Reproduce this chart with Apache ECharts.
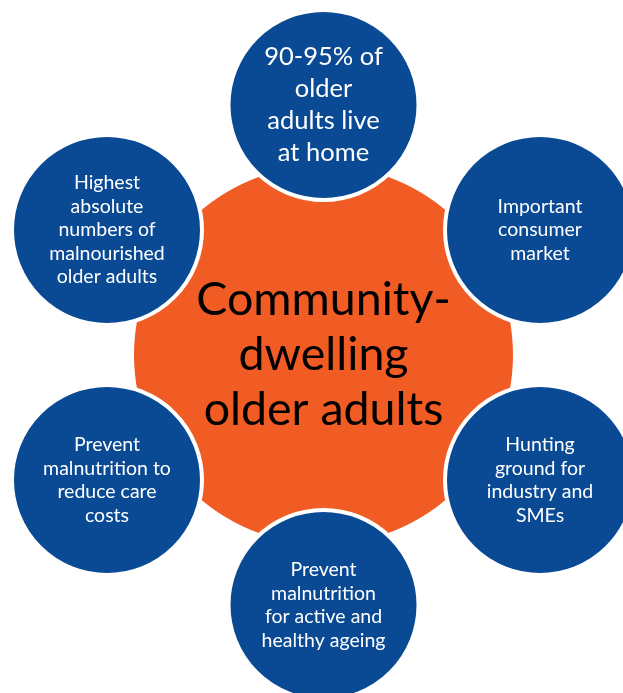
<!DOCTYPE html>
<html>
<head>
  <meta charset="utf-8">
  <script src="https://cdn.jsdelivr.net/npm/echarts@6/dist/echarts.min.js"></script>
  <style>
    body { margin: 0; background: #fff; }
    #main { width: 623px; height: 693px; }
  </style>
</head>
<body>
  <div id="main"></div>
  <script type="text/javascript">
    // texte der aeusseren kreise, im uhrzeigersinn ab oben
    var outerTexts = [
      '90-95% of\nolder\nadults live\nat home',
      'Important\nconsumer\nmarket',
      'Hunting\nground for\nindustry and\nSMEs',
      'Prevent\nmalnutrition\nfor active and\nhealthy ageing',
      'Prevent\nmalnutrition to\nreduce care\ncosts',
      'Highest\nabsolute\nnumbers of\nmalnourished\nolder adults'
    ];
    // winkel (grad, gegen uhrzeigersinn ab 3 uhr)
    var outerAngles = [90, 30, 330, 270, 210, 150];
    // abstand vom zentrum (1 = polar radius)
    var outerRadius = [1, 1, 1, 1, 1, 1];
    var centerText = 'Community-\ndwelling\nolder adults';

    var blue = '#0A4A94';
    var orange = '#F15B24';
    var font = 'Lato, "Open Sans", sans-serif';

    var myChart = echarts.init(document.getElementById('main'));

    var outerData = outerTexts.map(function (t, i) {
      var big = i === 0;
      return {
        value: [outerRadius[i], outerAngles[i]],
        label: {
          formatter: t,
          fontSize: big ? 25.5 : 19.5,
          lineHeight: big ? 32 : 23.5
        }
      };
    });

    var option = {
      backgroundColor: '#fff',
      animation: false,
      polar: { center: [323.5, 355], radius: 250 },
      angleAxis: {
        type: 'value', min: 0, max: 360, startAngle: 0, clockwise: false,
        show: false
      },
      radiusAxis: { type: 'value', min: 0, max: 1, show: false },
      series: [
        {
          type: 'scatter',
          coordinateSystem: 'polar',
          symbol: 'circle',
          symbolSize: 379,
          itemStyle: { color: orange, opacity: 1 },
          label: {
            show: true,
            position: 'inside',
            formatter: centerText,
            color: '#000',
            fontFamily: font,
            fontSize: 46.5,
            lineHeight: 55
          },
          emphasis: { disabled: true },
          data: [[0, 0]],
          z: 1
        },
        {
          type: 'scatter',
          coordinateSystem: 'polar',
          symbol: 'circle',
          symbolSize: 190,
          itemStyle: { color: blue, borderColor: '#fff', borderWidth: 4, opacity: 1 },
          label: {
            show: true,
            position: 'inside',
            color: '#fff',
            fontFamily: font,
            align: 'center'
          },
          emphasis: { disabled: true },
          data: outerData,
          z: 2
        }
      ]
    };
    myChart.setOption(option);
  </script>
</body>
</html>
